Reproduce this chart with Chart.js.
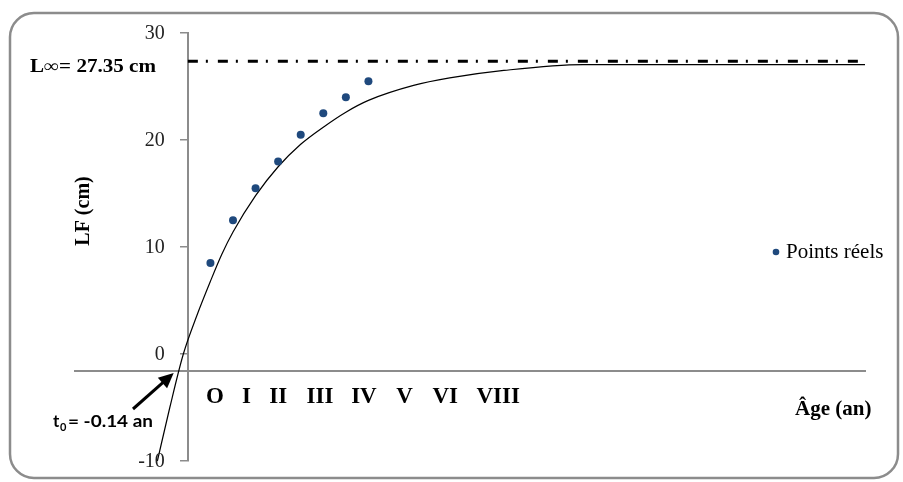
<!DOCTYPE html>
<html>
<head>
<meta charset="utf-8">
<script src="https://cdn.jsdelivr.net/npm/chart.js@4.4.1/dist/chart.umd.min.js"></script>
<style>
    html, body { margin: 0; padding: 0; background: #fff; }
    canvas { display: block; }
</style>
</head>
<body>
<canvas id="growthChart" width="903" height="482"></canvas>
<script>

// ==========================================
// Data
// ==========================================

const realAges = [1, 2, 3, 4, 5, 6, 7, 8];
const realLengths = [8.5, 12.5, 15.5, 18, 20.5, 22.5, 24, 25.5];

const curveAges = [-1.35, -0.8, -0.2, 0.4, 1, 1.5, 2, 3, 4, 5, 6, 7, 8, 10, 11.6, 14, 17.5, 20, 25, 30];
const curveLengths = [-10, -5.0, 0, 3.6, 6.8, 9.3, 11.4, 14.8, 17.5, 19.6, 21.2, 22.6, 23.7, 25.1, 25.8, 26.5, 27.05, 27.05, 27.05, 27.05];

const lInfinity = 27.35;
const asymptoteAges = [0, 30];
const t0 = -0.14;

const ageClassLabels = ["O", "I", "II", "III", "IV", "V", "VI", "VIII"];
const ageClassValues = [1.2, 2.6, 4.0, 5.85, 7.8, 9.6, 11.4, 13.75];

const xAxisCross = -1.6;


// ==========================================
// Helpers
// ==========================================

function fitText(c, text, x, y, width) {

    const w = c.measureText(text).width;

    c.save();
    c.translate(x, y);
    c.scale(width / w, 1);
    c.fillText(text, 0, 0);
    c.restore();

}


// ==========================================
// Annotations (frame, titles, arrow, legend)
// ==========================================

const annotations = {

    id: "annotations",

    afterDraw(chart) {

        const c = chart.ctx;
        const xs = chart.scales.x;
        const ys = chart.scales.y;

        c.save();

        // rounded frame
        c.strokeStyle = "#8c8c8c";
        c.lineWidth = 2.5;
        c.beginPath();
        c.roundRect(10, 13, 888, 465, 24);
        c.stroke();

        // y tick labels (left of the tick marks)
        const axisX = xs.getPixelForValue(0);
        c.fillStyle = "#222";
        c.font = "20px 'Liberation Serif'";
        c.textAlign = "right";
        c.textBaseline = "middle";
        ys.ticks.forEach(t => {
            c.fillText(String(t.value), axisX - 23, ys.getPixelForValue(t.value) + 1);
        });

        c.fillStyle = "#000";
        c.textBaseline = "alphabetic";
        c.textAlign = "left";

        // L infinity
        c.font = "bold 18px 'Liberation Serif'";
        fitText(c, "L\u221E= " + lInfinity + " cm", 30, 72, 126);

        // y title
        c.save();
        c.translate(89, 211);
        c.rotate(-Math.PI / 2);
        c.textAlign = "center";
        c.font = "bold 20px 'Liberation Serif'";
        c.fillText("LF (cm)", 0, 0);
        c.restore();

        // x title
        c.font = "bold 21px 'Liberation Serif'";
        c.fillText("\u00C2ge (an)", 795, 415);

        // t0 label
        c.font = "bold 17px Lato";
        c.fillText("t", 53, 427);
        c.font = "bold 11px Lato";
        c.fillText("0", 60, 431);
        c.font = "bold 17px Lato";
        fitText(c, "= " + t0 + " an", 68, 427, 85);

        // arrow to t0
        const tipX = xs.getPixelForValue(t0) - 11;
        const tipY = ys.getPixelForValue(xAxisCross) + 2;
        const fromX = 133, fromY = 409;
        const ang = Math.atan2(tipY - fromY, tipX - fromX);

        c.strokeStyle = "#000";
        c.lineWidth = 3;
        c.beginPath();
        c.moveTo(fromX, fromY);
        c.lineTo(tipX - 10 * Math.cos(ang), tipY - 10 * Math.sin(ang));
        c.stroke();

        c.beginPath();
        c.moveTo(tipX, tipY);
        c.lineTo(tipX - 15 * Math.cos(ang) + 7 * Math.sin(ang), tipY - 15 * Math.sin(ang) - 7 * Math.cos(ang));
        c.lineTo(tipX - 15 * Math.cos(ang) - 7 * Math.sin(ang), tipY - 15 * Math.sin(ang) + 7 * Math.cos(ang));
        c.closePath();
        c.fill();

        // legend
        const ds = chart.data.datasets[0];
        c.fillStyle = ds.backgroundColor;
        c.beginPath();
        c.arc(776, 252, 3.3, 0, Math.PI * 2);
        c.fill();

        c.fillStyle = "#000";
        c.font = "21px 'Liberation Serif'";
        c.textBaseline = "middle";
        c.fillText(ds.label, 786, 252);

        c.restore();

    }

};


// ==========================================
// Chart
// ==========================================

function loadGrowthChart() {

    const ctx = document.getElementById("growthChart");

    new Chart(ctx, {

        type: "scatter",

        data: {

            datasets: [

                {
                    label: "Points r\u00E9els",
                    data: realAges.map((a, i) => ({ x: a, y: realLengths[i] })),
                    backgroundColor: "#1F497D",
                    borderWidth: 0,
                    pointRadius: 4,
                    order: 0
                },

                {
                    label: "Courbe",
                    type: "line",
                    data: curveAges.map((a, i) => ({ x: a, y: curveLengths[i] })),
                    borderColor: "#000",
                    borderWidth: 1.2,
                    pointRadius: 0,
                    fill: false,
                    cubicInterpolationMode: "monotone",
                    order: 2
                },

                {
                    label: "L\u221E",
                    type: "line",
                    data: asymptoteAges.map(a => ({ x: a, y: lInfinity })),
                    borderColor: "#000",
                    borderWidth: 3,
                    borderDash: [10, 8, 2, 10],
                    pointRadius: 0,
                    fill: false,
                    order: 1
                }

            ]

        },

        options: {

            responsive: false,
            animation: false,

            layout: {
                padding: { left: 75, right: 38, top: 33, bottom: 21 }
            },

            plugins: {
                legend: { display: false },
                tooltip: { enabled: false }
            },

            scales: {

                x: {
                    type: "linear",
                    min: -5,
                    max: 30,
                    position: { y: xAxisCross },
                    afterBuildTicks: scale => {
                        scale.ticks = ageClassValues.map(v => ({ value: v }));
                    },
                    grid: { drawOnChartArea: false, drawTicks: false },
                    border: { color: "#8c8c8c", width: 2 },
                    ticks: {
                        autoSkip: false,
                        maxRotation: 0,
                        padding: 12,
                        color: "#000",
                        font: { family: "'Liberation Serif'", size: 23, weight: "bold" },
                        callback: (value, index) => ageClassLabels[index]
                    }
                },

                y: {
                    type: "linear",
                    min: -10,
                    max: 30,
                    position: { x: 0 },
                    grid: {
                        drawOnChartArea: false,
                        drawTicks: true,
                        tickLength: 7,
                        color: "#8c8c8c",
                        lineWidth: 1.5
                    },
                    border: { color: "#8c8c8c", width: 2 },
                    ticks: {
                        display: false,
                        stepSize: 10
                    }
                }

            }

        },

        plugins: [annotations]

    });

}

loadGrowthChart();

</script>
</body>
</html>
